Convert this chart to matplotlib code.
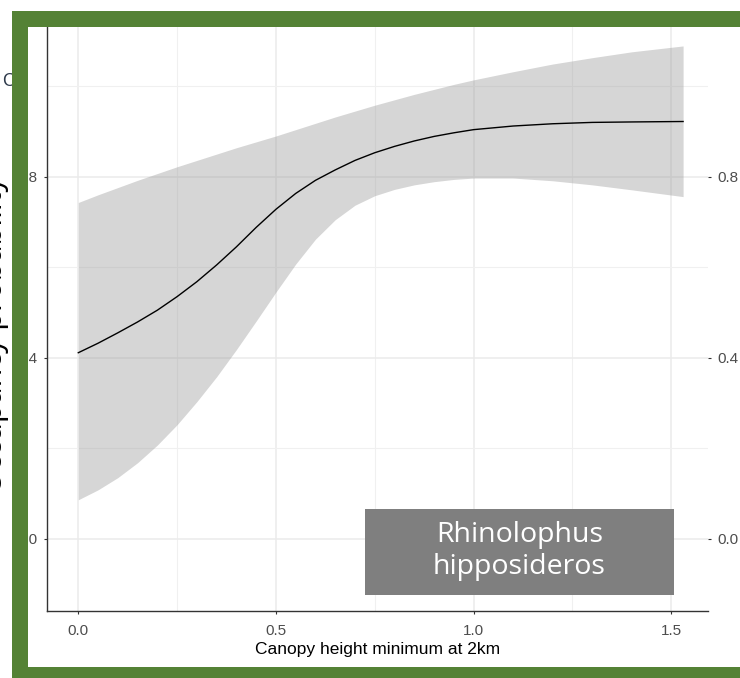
import matplotlib
matplotlib.use("Agg")
import matplotlib.pyplot as plt
from matplotlib.patches import Rectangle

# canopy height values along the fitted curve
canopy = [0.00, 0.05, 0.10, 0.15, 0.20, 0.25, 0.30, 0.35, 0.40, 0.45, 0.50, 0.55, 0.60,
          0.65, 0.70, 0.75, 0.80, 0.85, 0.90, 0.95, 1.00, 1.10, 1.20, 1.30, 1.40, 1.53]
# predicted occupancy probability
fit = [0.411, 0.432, 0.455, 0.479, 0.505, 0.535, 0.568, 0.605, 0.645, 0.688, 0.728, 0.763, 0.792,
       0.815, 0.836, 0.853, 0.867, 0.879, 0.889, 0.897, 0.904, 0.912, 0.917, 0.920, 0.921, 0.922]
# confidence band
upper = [0.743, 0.760, 0.776, 0.792, 0.807, 0.822, 0.836, 0.850, 0.864, 0.877, 0.890, 0.904, 0.918,
         0.932, 0.945, 0.958, 0.970, 0.982, 0.993, 1.004, 1.014, 1.032, 1.049, 1.063, 1.076, 1.089]
lower = [0.086, 0.108, 0.135, 0.168, 0.207, 0.252, 0.303, 0.358, 0.418, 0.481, 0.545, 0.607, 0.662,
         0.705, 0.737, 0.758, 0.772, 0.782, 0.789, 0.794, 0.797, 0.797, 0.791, 0.782, 0.771, 0.756]

x_ticks = [0.0, 0.5, 1.0, 1.5]
x_minor = [0.25, 0.75, 1.25]
y_ticks = [0.0, 0.4, 0.8]
y_minor = [0.2, 0.6, 1.0]

species = "Rhinolophus\nhipposideros"

W, H = 740, 678
fig = plt.figure(figsize=(W / 100, H / 100), dpi=100)
fig.patch.set_facecolor("white")

# panel position in pixels
left, right, bottom, top = 47, 708, 611, 21
ax = fig.add_axes([left / W, 1 - bottom / H, (right - left) / W, (bottom - top) / H])

ax.fill_between(canopy, lower, upper, color="#999999", alpha=0.4, linewidth=0, zorder=2)
ax.plot(canopy, fit, color="black", lw=1.0, zorder=3)

ax.set_xlim(-0.0792, 1.593)
ax.set_ylim(-0.1598, 1.1441)

ax.set_xticks(x_ticks)
ax.set_xticklabels(["0.0", "0.5", "1.0", "1.5"])
ax.set_xticks(x_minor, minor=True)
ax.set_yticks(y_ticks)
ax.set_yticklabels(["0.0", "0.4", "0.8"])
ax.set_yticks(y_minor, minor=True)

ax.grid(True, which="major", color="#ebebeb", lw=1.1, zorder=0)
ax.grid(True, which="minor", color="#f0f0f0", lw=0.8, zorder=0)
ax.set_axisbelow(True)

for s in ["top", "right"]:
    ax.spines[s].set_visible(False)
for s in ["left", "bottom"]:
    ax.spines[s].set_color("#333333")
    ax.spines[s].set_linewidth(1.0)

ax.tick_params(axis="both", which="major", length=2.5, width=0.8, color="#333333")
ax.tick_params(axis="both", which="minor", length=0)
ax.tick_params(axis="x", pad=7)
ax.tick_params(axis="y", pad=4, right=True, labelright=True)
for lab in ax.get_xticklabels() + ax.get_yticklabels():
    lab.set_fontfamily("Liberation Sans")
    lab.set_fontsize(11)
    lab.set_color("#4d4d4d")

ax.set_xlabel("Canopy height minimum at 2km", family="Liberation Sans", size=12.5,
              color="black", labelpad=3)

# species label box
fig.add_artist(Rectangle((365 / W, 1 - 595 / H), (674 - 365) / W, (595 - 509) / H,
                         transform=fig.transFigure, facecolor="#7f7f7f",
                         edgecolor="none", zorder=4))
fig.text((365 + 674) / 2 / W, 1 - 551 / H, species, ha="center", va="center",
         color="white", family="Open Sans", size=20.5, linespacing=1.15, zorder=5)

# partially hidden y label and letter on the left
fig.text(9.5 / W, 1 - 335 / H, "Occupancy probability", rotation=90, ha="right",
         va="center", family="Open Sans", size=22, color="black", zorder=3)
fig.text(2.5 / W, 1 - 81 / H, "C", ha="left", va="center", family="Liberation Sans",
         size=13, color="#2f3b4c", zorder=3)

# green frame
green = "#548235"
fig.add_artist(Rectangle((12.3 / W, 1 - 26.7 / H), (W - 12.3) / W, (26.7 - 11) / H,
                         transform=fig.transFigure, facecolor=green, edgecolor="none", zorder=6))
fig.add_artist(Rectangle((12.3 / W, 0), (28.3 - 12.3) / W, 1 - 11 / H,
                         transform=fig.transFigure, facecolor=green, edgecolor="none", zorder=6))
fig.add_artist(Rectangle((12.3 / W, 0), (W - 12.3) / W, (H - 667) / H,
                         transform=fig.transFigure, facecolor=green, edgecolor="none", zorder=6))

fig.savefig("out.png", dpi=100)
